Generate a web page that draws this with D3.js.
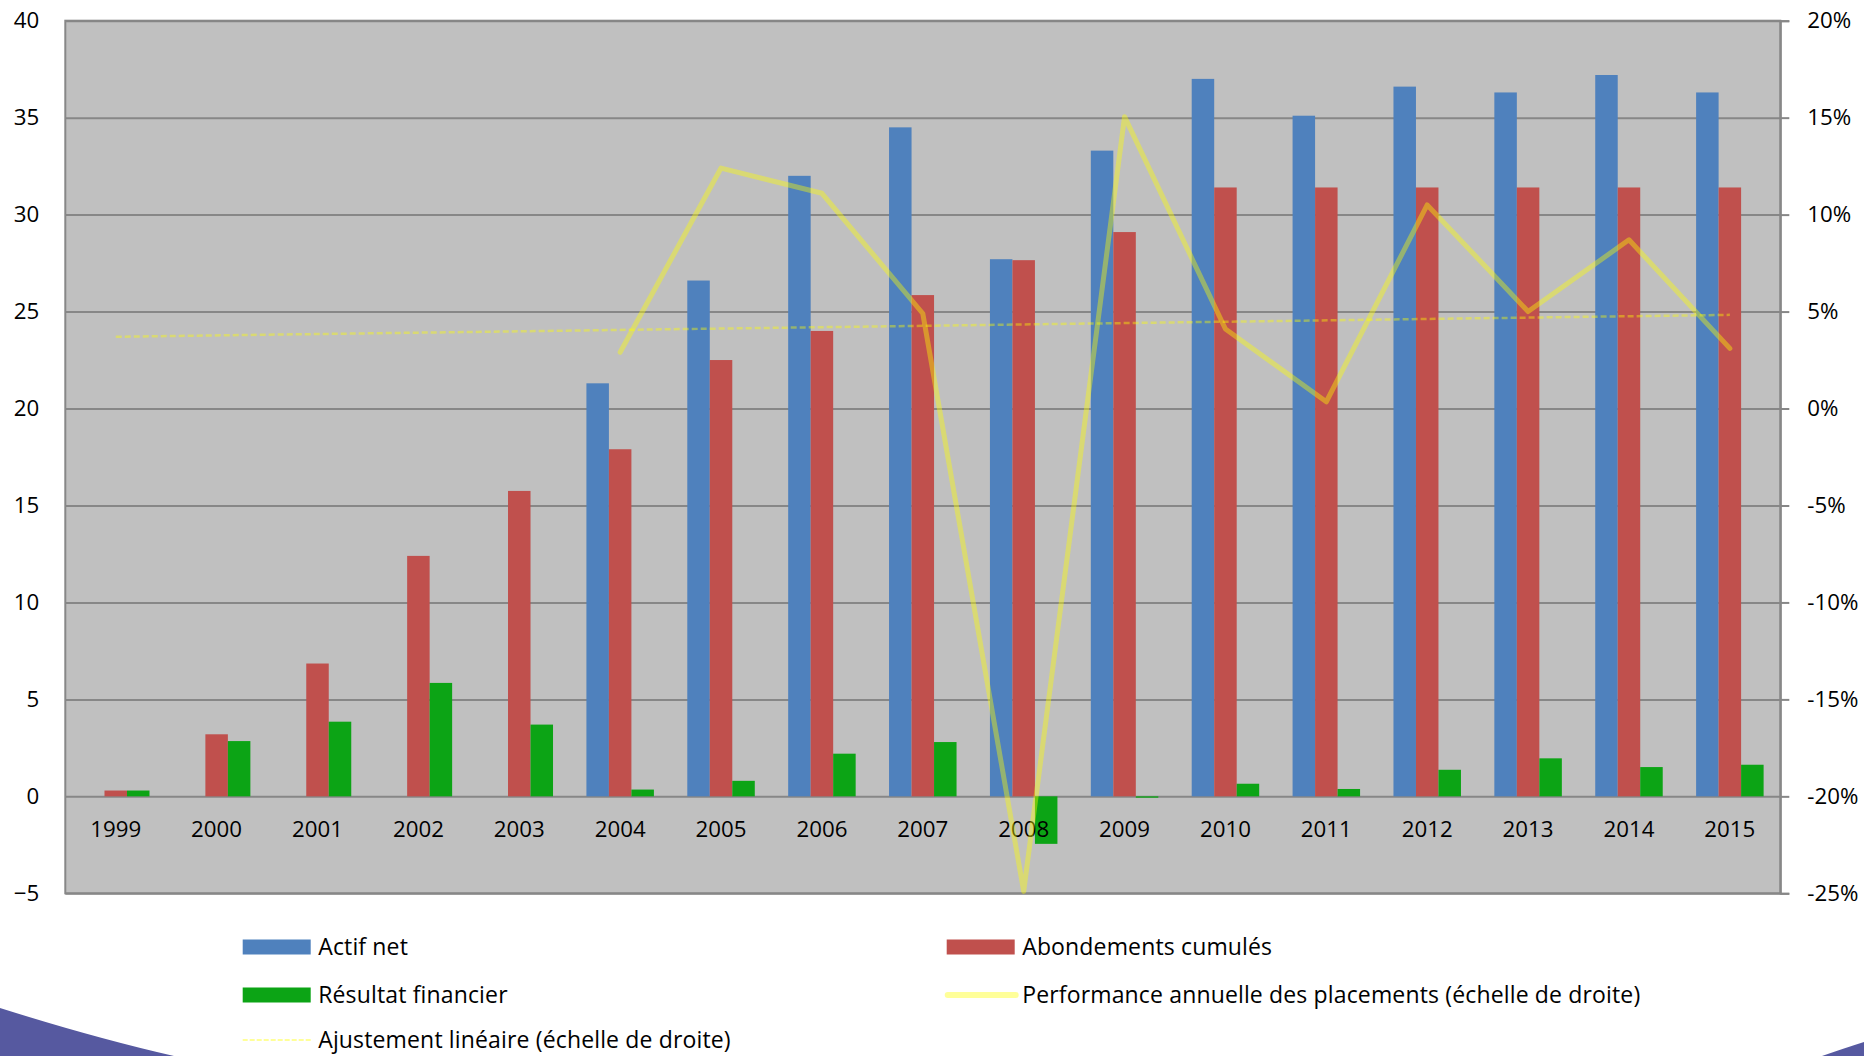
<!DOCTYPE html>
<html>
<head>
<meta charset="utf-8">
<script src="https://cdn.jsdelivr.net/npm/d3@7"></script>
<style>
  html, body { margin: 0; padding: 0; background: #ffffff; }
  svg { display: block; }
  text { font-family: "Open Sans", Lato, sans-serif; }
</style>
</head>
<body>
<script>
// ---------- data ----------
const years = ["1999","2000","2001","2002","2003","2004","2005","2006","2007","2008","2009","2010","2011","2012","2013","2014","2015"];
const actifNet    = [null, null, null, null, null, 21.3, 26.6, 32.0, 34.5, 27.7, 33.3, 37.0, 35.1, 36.6, 36.3, 37.2, 36.3];
const abondements = [0.3, 3.2, 6.85, 12.4, 15.75, 17.9, 22.5, 24.0, 25.85, 27.65, 29.1, 31.4, 31.4, 31.4, 31.4, 31.4, 31.4];
const resultat    = [0.3, 2.85, 3.85, 5.85, 3.7, 0.35, 0.8, 2.2, 2.8, -2.45, -0.07, 0.65, 0.38, 1.37, 1.96, 1.51, 1.63];
const performance = [null, null, null, null, null, 2.9, 12.4, 11.1, 4.9, -24.9, 15.05, 4.1, 0.35, 10.5, 5.0, 8.7, 3.1]; // %
const trendYears  = ["1999", "2015"];
const trendValues = [3.7, 4.83]; // %
const leftTicks   = [-5, 0, 5, 10, 15, 20, 25, 30, 35, 40];
const rightTicks  = [-25, -20, -15, -10, -5, 0, 5, 10, 15, 20];
const seriesNames = ["Actif net", "Abondements cumulés", "Résultat financier"];
const lineNames   = ["Performance annuelle des placements (échelle de droite)", "Ajustement linéaire (échelle de droite)"];

// ---------- styles ----------
const W = 1864, H = 1056;
const plot = { left: 65.3, right: 1780.3, top: 20.7, bottom: 893.3 };
const barColors = ["#4f81bd", "#c0504d", "#0ca415"];
const gridColor = "#878787";
const lineColor = "#ffff00";
const lineOpacity = 0.4;
const fontSize = 22.3;
const legendFontSize = 23;
const fontFam = "'Open Sans', Lato, sans-serif";

const svg = d3.select("body").append("svg").attr("width", W).attr("height", H);

// decorative slide shapes
svg.append("path")
  .attr("d", "M0,1008 Q95,1038 174,1056 L0,1056 Z")
  .attr("fill", "#5659a0");
svg.append("path")
  .attr("d", "M1822,1056 Q1845,1048 1864,1042 L1864,1056 Z")
  .attr("fill", "#5659a0");

// scales
const x = d3.scaleBand().domain(years).range([plot.left, plot.right]).padding(0);
const xInner = d3.scaleBand().domain([0, 1, 2]).range([0, x.bandwidth()]).paddingInner(0).paddingOuter(0.742);
const y = d3.scaleLinear().domain([-5, 40]).range([plot.bottom, plot.top]);
const y2 = d3.scaleLinear().domain([-25, 20]).range([plot.bottom, plot.top]);

// plot background
svg.append("rect")
  .attr("x", plot.left).attr("y", plot.top)
  .attr("width", plot.right - plot.left).attr("height", plot.bottom - plot.top)
  .attr("fill", "#c0c0c0");

// gridlines (left axis ticks)
const gridG = svg.append("g")
  .attr("transform", `translate(${plot.left},0)`)
  .call(d3.axisRight(y).tickValues(leftTicks).tickSize(plot.right - plot.left).tickFormat(""));
gridG.select(".domain").remove();
gridG.selectAll(".tick line").attr("stroke", gridColor).attr("stroke-width", 2);

// left axis labels
const leftAxis = svg.append("g")
  .attr("transform", `translate(${plot.left},0)`)
  .call(d3.axisLeft(y).tickValues(leftTicks).tickSize(0).tickPadding(26).tickFormat(d3.format("d")));
leftAxis.select(".domain").remove();
leftAxis.selectAll("text").attr("font-size", fontSize).attr("fill", "#000").attr("font-family", fontFam);

// right axis
const rightAxis = svg.append("g")
  .attr("transform", `translate(${plot.right},0)`)
  .call(d3.axisRight(y2).tickValues(rightTicks).tickSize(9).tickPadding(18).tickFormat(d => d + "%"));
rightAxis.select(".domain").attr("stroke", gridColor).attr("stroke-width", 2);
rightAxis.selectAll(".tick line").attr("stroke", gridColor).attr("stroke-width", 2);
rightAxis.selectAll("text").attr("font-size", fontSize).attr("fill", "#000").attr("font-family", fontFam);

// plot border
svg.append("rect")
  .attr("x", plot.left).attr("y", plot.top)
  .attr("width", plot.right - plot.left).attr("height", plot.bottom - plot.top)
  .attr("fill", "none").attr("stroke", gridColor).attr("stroke-width", 2);

// bars
const seriesData = [actifNet, abondements, resultat];
seriesData.forEach((vals, si) => {
  svg.append("g").selectAll("rect")
    .data(years.map((yr, i) => ({ yr, v: vals[i] })).filter(d => d.v !== null))
    .join("rect")
    .attr("x", d => x(d.yr) + xInner(si))
    .attr("width", xInner.bandwidth())
    .attr("y", d => y(Math.max(0, d.v)))
    .attr("height", d => Math.max(1, Math.abs(y(d.v) - y(0))))
    .attr("fill", barColors[si]);
});

// x labels (inside plot, below zero line)
const xAxis = svg.append("g")
  .attr("transform", `translate(0,${y(0)})`)
  .call(d3.axisBottom(x).tickSize(0).tickPadding(25));
xAxis.select(".domain").remove();
xAxis.selectAll("text").attr("font-size", fontSize).attr("fill", "#000").attr("font-family", fontFam);

// trend line
const trendData = trendYears.map((yr, i) => ({ yr, v: trendValues[i] }));
svg.append("path")
  .datum(trendData)
  .attr("d", d3.line().x(d => x(d.yr) + x.bandwidth() / 2).y(d => y2(d.v)))
  .attr("fill", "none")
  .attr("stroke", lineColor).attr("stroke-opacity", lineOpacity)
  .attr("stroke-width", 2.5).attr("stroke-dasharray", "6,3");

// performance line
const perfData = years.map((yr, i) => ({ yr, v: performance[i] })).filter(d => d.v !== null);
svg.append("path")
  .datum(perfData)
  .attr("d", d3.line().x(d => x(d.yr) + x.bandwidth() / 2).y(d => y2(d.v)))
  .attr("fill", "none")
  .attr("stroke", lineColor).attr("stroke-opacity", lineOpacity)
  .attr("stroke-width", 5).attr("stroke-linejoin", "round").attr("stroke-linecap", "round");

// legend
const legendCols = [242.7, 946.7];
const legendRows = [947, 995, 1040];
const legendItems = [
  { name: seriesNames[0], type: "bar", color: barColors[0], col: 0, row: 0 },
  { name: seriesNames[1], type: "bar", color: barColors[1], col: 1, row: 0 },
  { name: seriesNames[2], type: "bar", color: barColors[2], col: 0, row: 1 },
  { name: lineNames[0], type: "line", col: 1, row: 1 },
  { name: lineNames[1], type: "dash", col: 0, row: 2 }
];
const lg = svg.append("g");
legendItems.forEach(it => {
  const lx = legendCols[it.col], ly = legendRows[it.row];
  if (it.type === "bar") {
    lg.append("rect").attr("x", lx).attr("y", ly - 7.5).attr("width", 68).attr("height", 15).attr("fill", it.color);
  } else if (it.type === "line") {
    lg.append("line").attr("x1", lx + 1).attr("x2", lx + 69).attr("y1", ly).attr("y2", ly)
      .attr("stroke", lineColor).attr("stroke-opacity", lineOpacity).attr("stroke-width", 6).attr("stroke-linecap", "round");
  } else {
    lg.append("line").attr("x1", lx).attr("x2", lx + 68).attr("y1", ly).attr("y2", ly)
      .attr("stroke", lineColor).attr("stroke-opacity", lineOpacity).attr("stroke-width", 2).attr("stroke-dasharray", "5,2");
  }
  lg.append("text").attr("x", lx + 75.5).attr("y", ly).attr("dy", "0.35em")
    .attr("font-size", legendFontSize).attr("letter-spacing", "0.15px")
    .attr("font-family", fontFam).attr("fill", "#000").text(it.name);
});
</script>
</body>
</html>
